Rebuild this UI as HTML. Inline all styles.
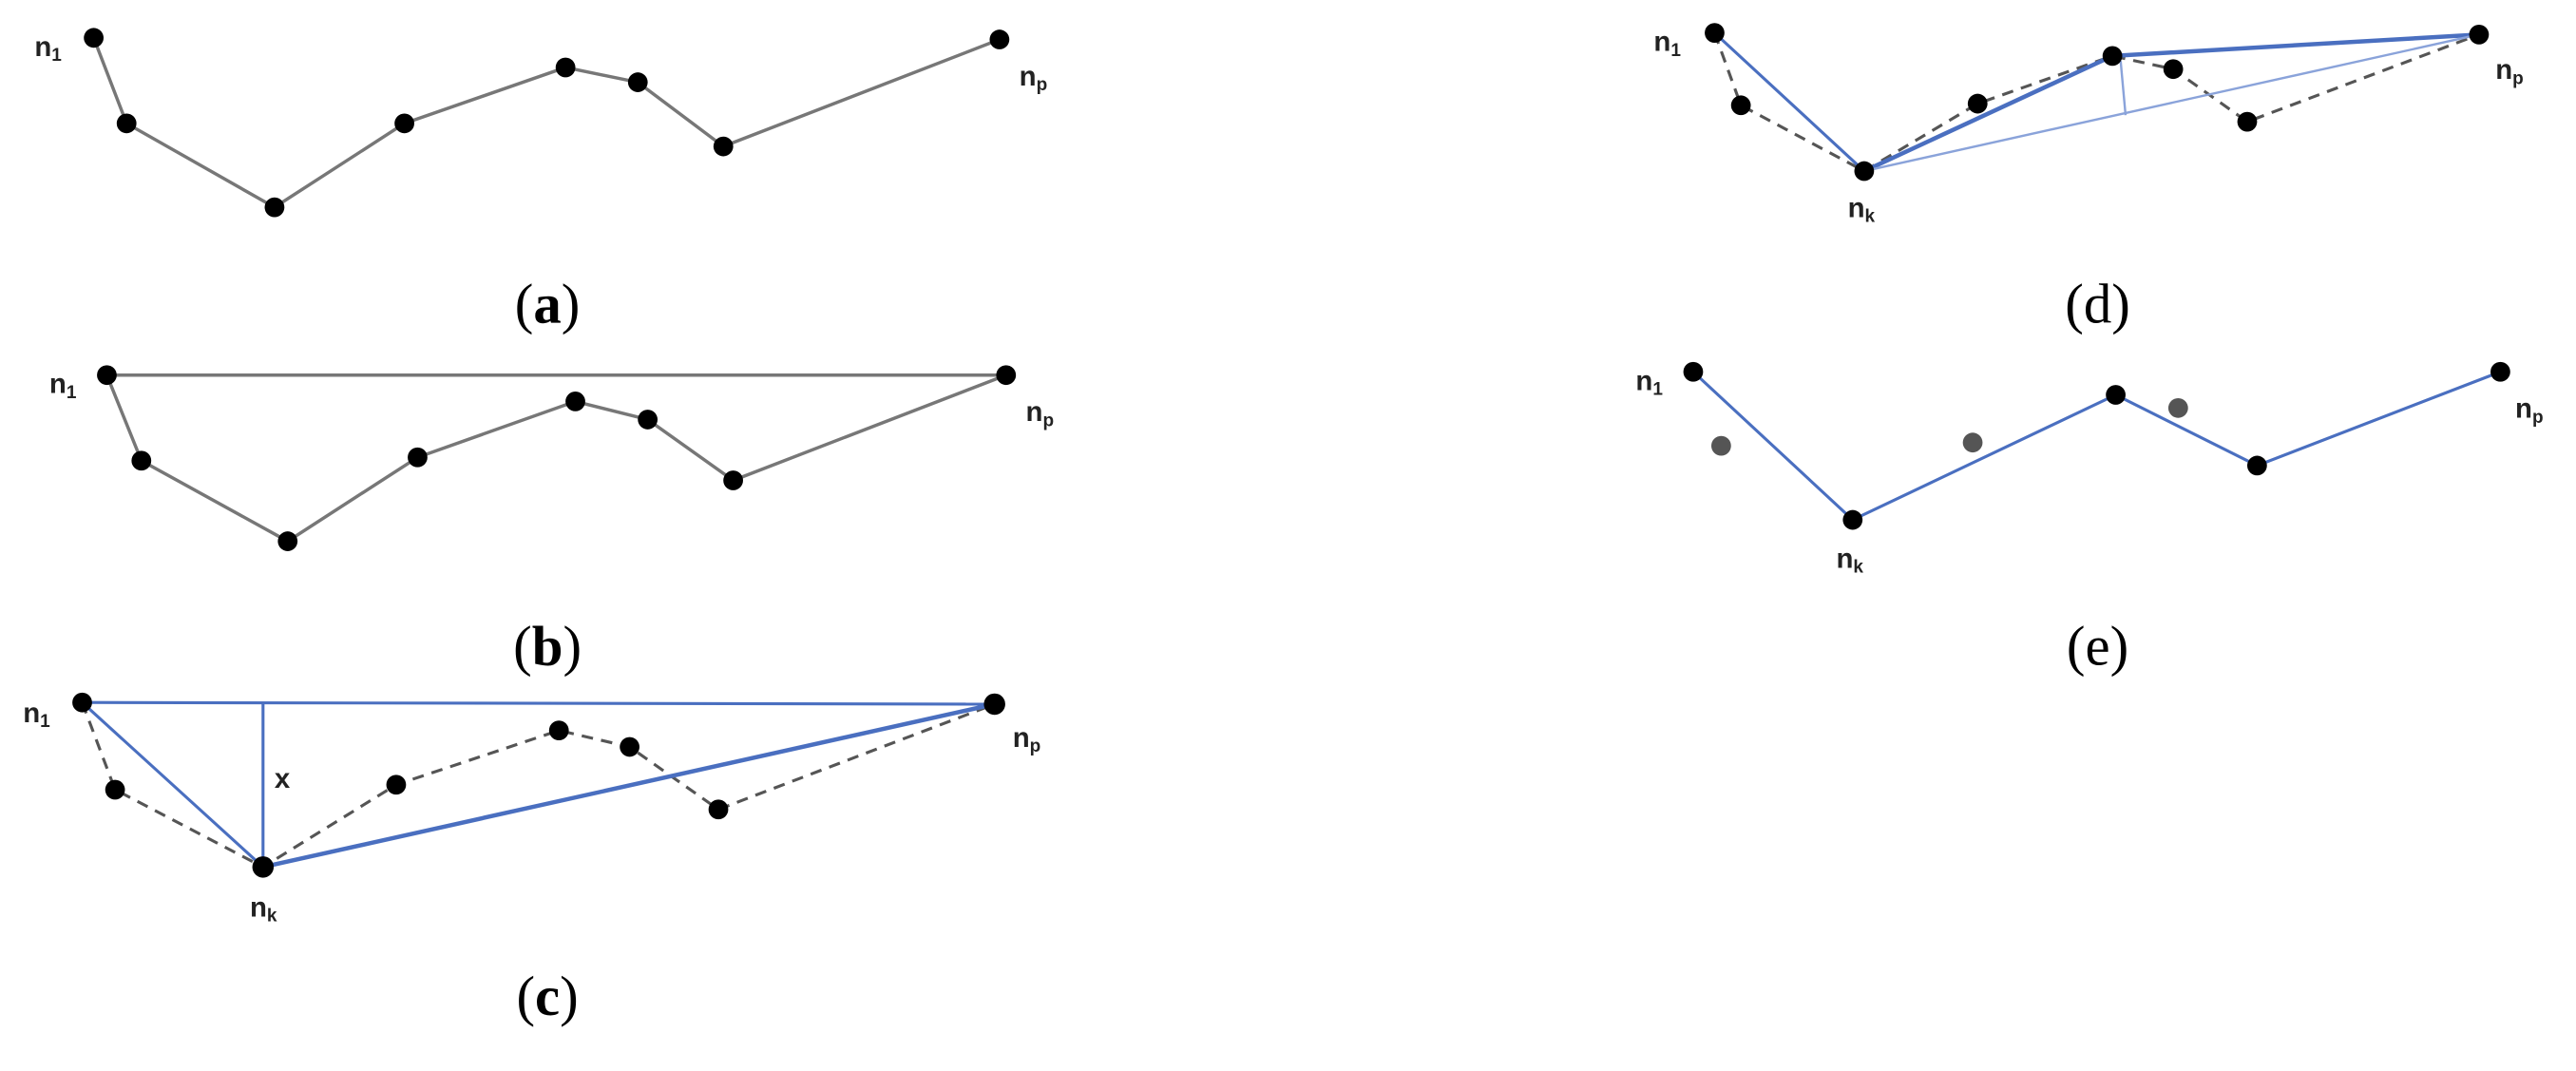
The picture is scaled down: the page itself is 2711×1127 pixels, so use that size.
<!DOCTYPE html>
<html><head><style>
html,body{margin:0;padding:0;background:#fff;}
svg{display:block;}
.lab{font-family:"Liberation Sans",sans-serif;font-weight:bold;font-size:17px;fill:#222;}
.sub{font-size:11px;}
.cap{font-family:"Liberation Serif",serif;font-size:34px;fill:#000;}
.g{stroke:#777;stroke-width:2;fill:none;}
.d{stroke:#555;stroke-width:1.8;fill:none;stroke-dasharray:7,5;}
.b{stroke:#4a6fc0;stroke-width:1.8;fill:none;}
.bt{stroke:#4a6fc0;stroke-width:2.6;fill:none;}
.bl{stroke:#8aa3da;stroke-width:1.4;fill:none;}
</style></head><body>
<svg width="2711" height="1127" viewBox="0 0 1567 651" preserveAspectRatio="none" xmlns="http://www.w3.org/2000/svg">
<g fill="#000">
<!-- (a) -->
<polyline class="g" points="57,23 77,75 167,126 246,75 344,41 388,50 440,89 608,24"/>
<circle cx="57" cy="23" r="6"/><circle cx="77" cy="75" r="6"/><circle cx="167" cy="126" r="6"/><circle cx="246" cy="75" r="6"/><circle cx="344" cy="41" r="6"/><circle cx="388" cy="50" r="6"/><circle cx="440" cy="89" r="6"/><circle cx="608" cy="24" r="6"/>
<text class="lab" x="21" y="34">n<tspan class="sub" dy="3">1</tspan></text>
<text class="lab" x="620" y="52">n<tspan class="sub" dy="3">p</tspan></text>
<text class="cap" x="333" y="196" text-anchor="middle">(<tspan font-weight="bold">a</tspan>)</text>
<!-- (b) -->
<line class="g" x1="65" y1="228" x2="612" y2="228" stroke-width="1.5"/>
<polyline class="g" points="65,228 86,280 175,329 254,278 350,244 394,255 446,292 612,228"/>
<circle cx="65" cy="228" r="6"/><circle cx="86" cy="280" r="6"/><circle cx="175" cy="329" r="6"/><circle cx="254" cy="278" r="6"/><circle cx="350" cy="244" r="6"/><circle cx="394" cy="255" r="6"/><circle cx="446" cy="292" r="6"/><circle cx="612" cy="228" r="6"/>
<text class="lab" x="30" y="239">n<tspan class="sub" dy="3">1</tspan></text>
<text class="lab" x="624" y="256">n<tspan class="sub" dy="3">p</tspan></text>
<text class="cap" x="333" y="404" text-anchor="middle">(<tspan font-weight="bold">b</tspan>)</text>
<!-- (c) -->
<polyline class="d" points="50,427 70,480 160,527 241,477 340,444 383,454 437,492 605,428"/>
<line class="b" x1="50" y1="427" x2="605" y2="428" stroke-width="1.3"/>
<line class="b" x1="160" y1="427" x2="160" y2="527" stroke-width="1.3"/>
<line class="b" x1="50" y1="427" x2="160" y2="527"/>
<line class="bt" x1="160" y1="527" x2="605" y2="428"/>
<circle cx="50" cy="427" r="6"/><circle cx="70" cy="480" r="6"/><circle cx="160" cy="527" r="6.5"/><circle cx="241" cy="477" r="6"/><circle cx="340" cy="444" r="6"/><circle cx="383" cy="454" r="6"/><circle cx="437" cy="492" r="6"/><circle cx="605" cy="428" r="6.5"/>
<text class="lab" x="14" y="439">n<tspan class="sub" dy="3">1</tspan></text>
<text class="lab" x="616" y="454">n<tspan class="sub" dy="3">p</tspan></text>
<text class="lab" x="167" y="479">x</text>
<text class="lab" x="152" y="557">n<tspan class="sub" dy="3">k</tspan></text>
<text class="cap" x="333" y="617" text-anchor="middle">(<tspan font-weight="bold">c</tspan>)</text>
<!-- (d) -->
<polyline class="d" points="1043,20 1059,64 1134,104 1203,63 1285,34 1322,42 1367,74 1508,21"/>
<line class="b" x1="1043" y1="20" x2="1134" y2="104"/>
<line class="bt" x1="1134" y1="104" x2="1285" y2="34"/>
<line class="bt" x1="1285" y1="34" x2="1508" y2="21"/>
<line class="bl" x1="1134" y1="104" x2="1508" y2="21"/>
<line class="bl" x1="1290" y1="37" x2="1293" y2="70"/>
<circle cx="1043" cy="20" r="6"/><circle cx="1059" cy="64" r="6"/><circle cx="1134" cy="104" r="6"/><circle cx="1203" cy="63" r="6"/><circle cx="1285" cy="34" r="6"/><circle cx="1322" cy="42" r="6"/><circle cx="1367" cy="74" r="6"/><circle cx="1508" cy="21" r="6"/>
<text class="lab" x="1006" y="31">n<tspan class="sub" dy="3">1</tspan></text>
<text class="lab" x="1518" y="48">n<tspan class="sub" dy="3">p</tspan></text>
<text class="lab" x="1124" y="132">n<tspan class="sub" dy="3">k</tspan></text>
<text class="cap" x="1276" y="196" text-anchor="middle">(d)</text>
<!-- (e) -->
<polyline class="b" points="1030,226 1127,316 1287,240 1373,283 1521,226"/>
<circle cx="1030" cy="226" r="6"/><circle cx="1127" cy="316" r="6"/><circle cx="1287" cy="240" r="6"/><circle cx="1373" cy="283" r="6"/><circle cx="1521" cy="226" r="6"/>
<circle cx="1047" cy="271" r="6" fill="#555"/><circle cx="1200" cy="269" r="6" fill="#555"/><circle cx="1325" cy="248" r="6" fill="#555"/>
<text class="lab" x="995" y="237">n<tspan class="sub" dy="3">1</tspan></text>
<text class="lab" x="1530" y="254">n<tspan class="sub" dy="3">p</tspan></text>
<text class="lab" x="1117" y="345">n<tspan class="sub" dy="3">k</tspan></text>
<text class="cap" x="1276" y="404" text-anchor="middle">(e)</text>
</g>
</svg>
</body></html>
